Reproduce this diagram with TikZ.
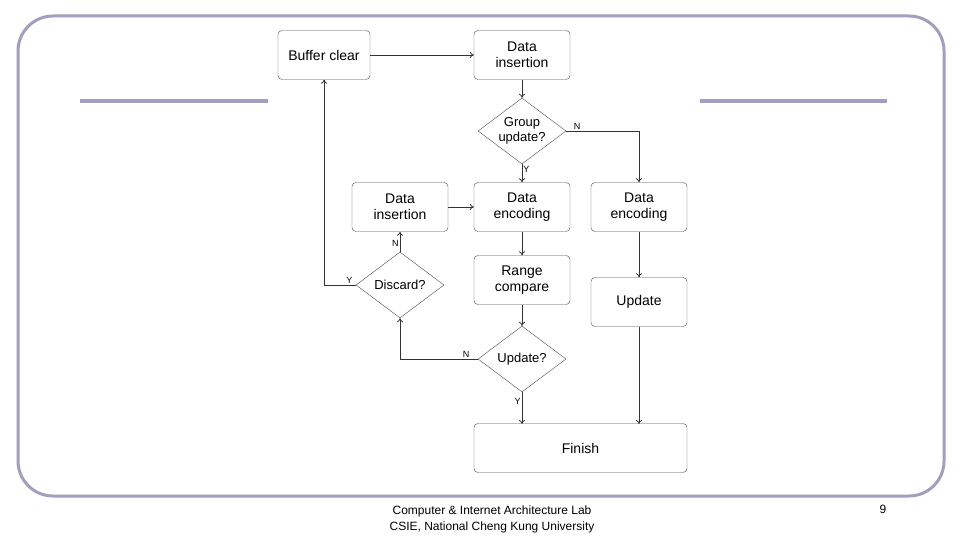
\documentclass[tikz,border=0pt]{standalone}
\usepackage{fontspec}
\setmainfont{Liberation Sans}
\usetikzlibrary{shapes.geometric,arrows.meta}
\begin{document}
\begin{tikzpicture}[x=1pt,y=-1pt,
  box/.style={draw=black!70,rounded corners=4pt,minimum width=96pt,minimum height=49pt,align=center,font=\fontsize{14}{16}\selectfont,inner sep=1pt},
  dia/.style={draw=black!70,diamond,aspect=1.33,minimum width=88pt,minimum height=66pt,inner sep=0pt,align=center,font=\fontsize{13}{15}\selectfont},
  arr/.style={draw=black!80,line width=0.8pt,-{To[length=4pt,width=6pt]}},
  lbl/.style={font=\fontsize{9}{10}\selectfont,inner sep=1pt},
  frame/.style={draw={rgb,255:red,160;green,160;blue,190},line width=3pt}]
\useasboundingbox (0,0) rectangle (960,540);
\draw[frame,rounded corners=35pt] (18,16) rectangle (944,496);
\draw[frame,line width=4pt] (80,101) -- (268,101);
\draw[frame,line width=4pt] (700,101) -- (887,101);
\node[box,minimum width=92pt] (bc) at (324,55) {Buffer clear};
\node[box] (di1) at (522,55) {Data\\insertion};
\node[dia] (gu) at (522,131) {Group\\update?};
\node[box] (di2) at (400,207) {Data\\insertion};
\node[box] (de1) at (522,207) {Data\\encoding};
\node[box] (de2) at (639,207) {Data\\encoding};
\node[dia] (dc) at (400,285) {Discard?};
\node[box] (rc) at (522,280) {Range\\compare};
\node[box] (up) at (639,302) {Update};
\node[dia] (uq) at (522,359) {Update?};
\node[box,minimum width=213pt] (fin) at (580.5,448) {Finish};
\coordinate (c1) at (639,131);
\coordinate (c2) at (400,359);
\coordinate (c3) at (324,285);
\coordinate (f1) at (522,424);
\coordinate (f2) at (639,424);
\draw[arr] (bc) -- (di1);
\draw[arr] (di1) -- (gu);
\draw[arr] (gu) -- node[lbl,right,pos=0.3]{Y} (de1);
\draw[arr] (gu.east) -- node[lbl,above,pos=0.15]{N} (c1) -- (de2);
\draw[arr] (di2) -- (de1);
\draw[arr] (de1) -- (rc);
\draw[arr] (rc) -- (uq);
\draw[arr] (uq.south) -- node[lbl,left,pos=0.3]{Y} (f1);
\draw[arr] (uq.west) -- node[lbl,above,pos=0.15]{N} (c2) -- (dc.south);
\draw[arr] (dc.north) -- node[lbl,left,pos=0.4]{N} (di2);
\draw[arr] (dc.west) -- node[lbl,above,pos=0.2]{Y} (c3) -- (bc);
\draw[arr] (de2) -- (up);
\draw[arr] (up) -- (f2);
\node[align=center,font=\fontsize{12}{16}\selectfont] (ft) at (492,519) {Computer \& Internet Architecture Lab\\CSIE, National Cheng Kung University};
\node[font=\fontsize{12}{14}\selectfont] (pg) at (883,509) {9};
\end{tikzpicture}
\end{document}
